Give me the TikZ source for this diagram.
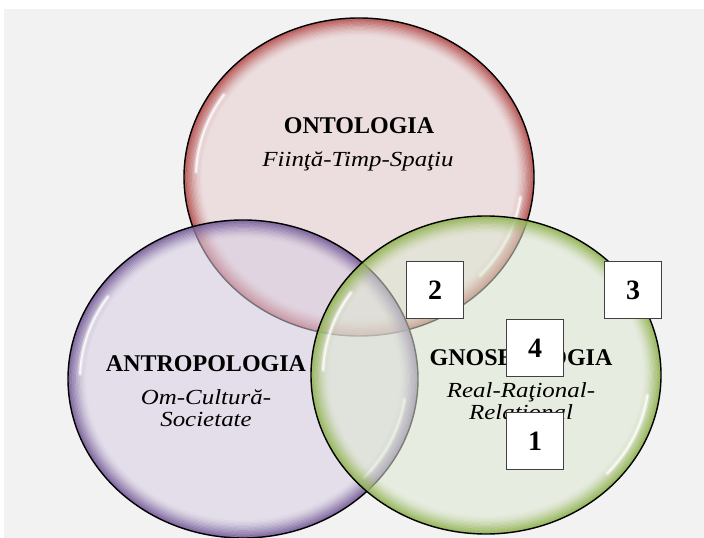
\documentclass[tikz,border=0pt]{standalone}
\usepackage{fontspec}
\setmainfont{Liberation Serif}
\newfontfamily\widerserif[FakeStretch=1.16]{Liberation Serif}

\definecolor{bggray}{HTML}{F2F2F2}
\definecolor{ontotint}{RGB}{232,204,206}
\definecolor{ontorim}{RGB}{176,70,68}
\definecolor{antrotint}{RGB}{216,206,228}
\definecolor{antrorim}{RGB}{112,86,148}
\definecolor{gnosetint}{RGB}{222,232,210}
\definecolor{gnoserim}{RGB}{140,176,74}

\tikzset{
  headtext/.style={inner sep=0pt, anchor=base,
    font=\fontsize{24}{26}\selectfont\bfseries},
  subtext/.style={inner sep=0pt, anchor=base,
    font=\widerserif\fontsize{21.5}{22}\selectfont\itshape},
  numbox/.style={draw=black!75, fill=white, line width=1pt,
    minimum size=57pt, inner sep=0pt,
    font=\fontsize{28}{30}\selectfont\bfseries},
  gloss/.style={white, line cap=round},
}

% #1 centre, #2 tint, #3 rim colour
\newcommand\vennbubble[3]{%
  \fill[#2, fill opacity=0.55] (#1) ellipse[x radius=175pt, y radius=159pt];
  % glassy rim: concentric strokes that fade towards the inside
  \begin{scope}
    \clip (#1) ellipse[x radius=175pt, y radius=159pt];
    \foreach \k in {0,...,13}{%
      \pgfmathsetmacro\rimop{0.85*(1-\k/14)^1.6}%
      \draw[#3, line width=1.5pt, opacity=\rimop]
        (#1) ellipse[x radius=174.4pt-\k*1.3pt, y radius=158.4pt-\k*1.3pt];
    }
  \end{scope}
  \draw[gloss, line width=5pt, opacity=0.3]
    (#1) ++(146:163pt and 147pt) arc[start angle=146, end angle=178, x radius=163pt, y radius=147pt];
  \draw[gloss, line width=2pt, opacity=0.8]
    (#1) ++(146:163pt and 147pt) arc[start angle=146, end angle=178, x radius=163pt, y radius=147pt];
  \draw[gloss, line width=5pt, opacity=0.3]
    (#1) ++(-8:163pt and 147pt) arc[start angle=-8, end angle=-42, x radius=163pt, y radius=147pt];
  \draw[gloss, line width=2pt, opacity=0.8]
    (#1) ++(-8:163pt and 147pt) arc[start angle=-8, end angle=-42, x radius=163pt, y radius=147pt];
  \draw[black, line width=1.4pt] (#1) ellipse[x radius=175pt, y radius=159pt];
}

\begin{document}
\begin{tikzpicture}[x=1pt, y=1pt]
  \useasboundingbox (0,0) rectangle (704,538);
  \fill[white] (0,0) rectangle (704,538);
  \fill[bggray] (4,0) rectangle (704,529);

  \coordinate (ontoc) at (359,361);
  \coordinate (antroc) at (243,159);
  \coordinate (gnosec) at (486,163);

  \vennbubble{ontoc}{ontotint}{ontorim}
  \vennbubble{antroc}{antrotint}{antrorim}
  \vennbubble{gnosec}{gnosetint}{gnoserim}

  % circle titles
  \node[headtext] (onto) at (359,404) {ONTOLOGIA};
  \node[subtext] (ontosub) at (358,371) {Fiinţă-Timp-Spaţiu};

  \node[headtext] (antro) at (206,166) {ANTROPOLOGIA};
  \node[subtext] (antrosubA) at (206,133) {Om-Cultură-};
  \node[subtext] (antrosubB) at (206,111) {Societate};

  \node[headtext] (gnose) at (521,172) {GNOSEOLOGIA};
  \node[subtext] (gnosesubA) at (521,140) {Real-Raţional-};
  \node[subtext] (gnosesubB) at (521,118) {Relaţional};

  % numbered markers
  \node[numbox] (n2) at (435,247.5) {2};
  \node[numbox] (n3) at (633,247.5) {3};
  \node[numbox] (n4) at (535,190) {4};
  \node[numbox] (n1) at (535,96.5) {1};
\end{tikzpicture}
\end{document}
